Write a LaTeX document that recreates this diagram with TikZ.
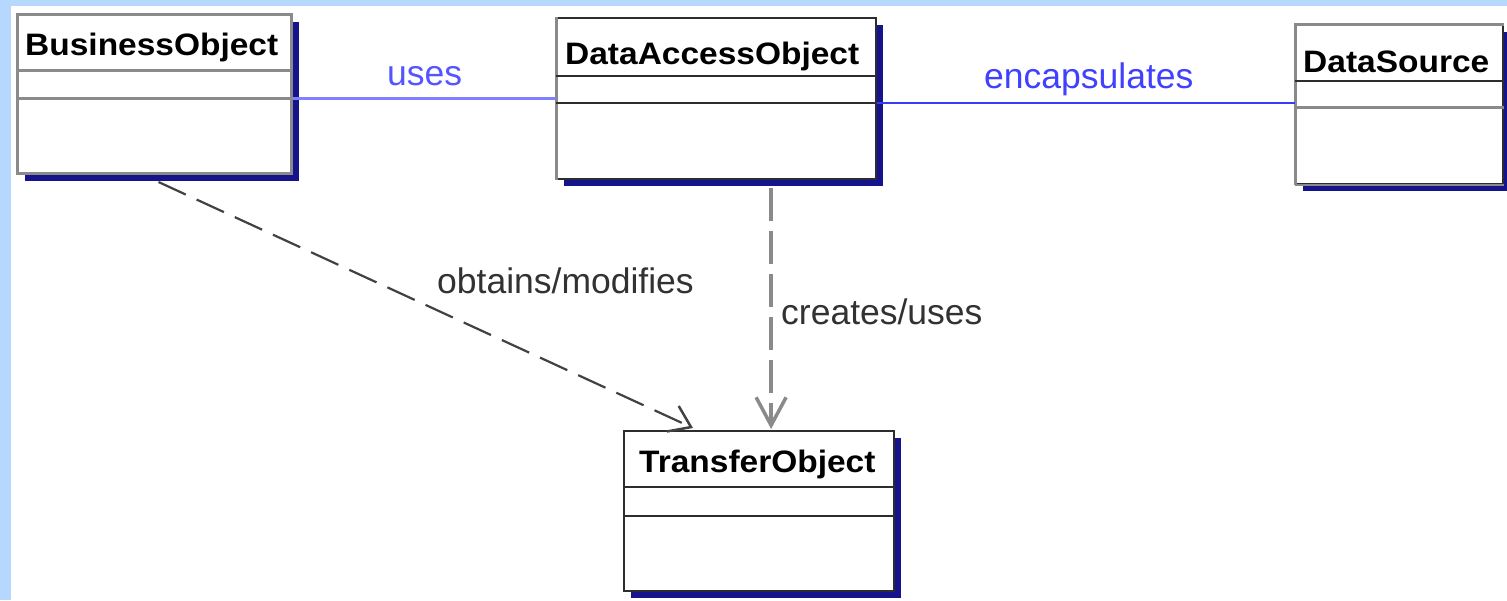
\documentclass[tikz,border=0pt]{standalone}
\usepackage{fontspec}
\setmainfont{Liberation Sans}
\newfontfamily\clsfont[FakeStretch=1.08]{Liberation Sans}
\usetikzlibrary{arrows.meta,shadows}
\definecolor{bandblue}{RGB}{182,216,255}
\definecolor{shadowc}{RGB}{22,20,140}
\definecolor{boxgray}{RGB}{138,138,138}
\definecolor{boxdark}{RGB}{45,45,45}
\definecolor{useblue}{RGB}{128,128,255}
\definecolor{encblue}{RGB}{56,56,255}
\definecolor{usetext}{RGB}{85,85,255}
\definecolor{enctext}{RGB}{64,64,255}
\definecolor{lbltext}{RGB}{50,50,50}
\tikzset{
  classbox/.style={rectangle, fill=white, inner sep=0pt, anchor=north west,
    drop shadow={shadow xshift=7pt, shadow yshift=-7pt, opacity=1, fill=shadowc}},
  grayborder/.style={draw=boxgray, line width=3pt},
  darkborder/.style={draw=boxdark, line width=2.2pt},
  graysep/.style={draw=boxgray, line width=3pt},
  darksep/.style={draw=boxdark, line width=2.2pt},
  classname/.style={anchor=base west, inner sep=0pt, text=black,
    font=\clsfont\bfseries\fontsize{31}{36}\selectfont},
  lbl/.style={anchor=base west, inner sep=0pt,
    font=\fontsize{35.5}{40}\selectfont},
  useline/.style={draw=useblue, line width=3pt},
  encline/.style={draw=encblue, line width=2.5pt},
  obtline/.style={draw=boxdark!90, line width=2.2pt, dash pattern=on 30pt off 12pt,
    -{Straight Barb[length=20pt,width=28pt,line width=2.5pt]}},
  creline/.style={draw=boxgray, line width=4pt, dash pattern=on 33pt off 10pt,
    -{Straight Barb[length=28pt,width=30pt,line width=3.5pt]}}
}
\begin{document}
\begin{tikzpicture}[x=1pt,y=-1pt]
\useasboundingbox (0,0) rectangle (1507,600);
% background
\fill[white] (0,0) rectangle (1507,600);
\fill[bandblue] (0,0) rectangle (1507,6);
\fill[bandblue] (0,0) rectangle (11,600);

% BusinessObject
\node[classbox, grayborder, minimum width=274pt, minimum height=159pt] (bo) at (16,13) {};
\draw[graysep] (bo.west |- 0,70) -- (bo.east |- 0,70);
\draw[graysep] (bo.west |- 0,98) -- (bo.east |- 0,98);
\node[classname] (bot) at (25,55) {BusinessObject};

% DataAccessObject
\node[classbox, darkborder, minimum width=319pt, minimum height=161pt] (dao) at (556,17) {};
\draw[boxgray, line width=3pt] (dao.north west) -- (dao.south west);
\draw[darksep] (dao.west |- 0,76) -- (dao.east |- 0,76);
\draw[darksep] (dao.west |- 0,103) -- (dao.east |- 0,103);
\node[classname] (daot) at (565,64) {DataAccessObject};

% DataSource
\node[classbox, darkborder, minimum width=207pt, minimum height=159pt] (ds) at (1295,24) {};
\draw[boxgray, line width=3pt] (ds.south west) -- (ds.north west) -- (ds.north east);
\draw[boxgray, line width=2.5pt] (ds.south west) -- (ds.south east);
\draw[darksep] (ds.west |- 0,81) -- (ds.east |- 0,81);
\draw[graysep] (ds.west |- 0,107) -- (ds.east |- 0,107);
\node[classname] (dst) at (1303,72) {DataSource};

% TransferObject
\node[classbox, darkborder, minimum width=270pt, minimum height=160pt] (to) at (623,430) {};
\draw[darksep] (to.west |- 0,487) -- (to.east |- 0,487);
\draw[darksep] (to.west |- 0,516) -- (to.east |- 0,516);
\node[classname] (tot) at (639,472) {TransferObject};

% connectors
\draw[useline] (bo.east |- 0,98) -- (dao.west |- 0,98);
\draw[encline] (dao.east |- 0,103) -- (ds.west |- 0,103);
\draw[obtline] ([xshift=4pt,yshift=-7pt]bo.south) -- ([xshift=70pt,yshift=2pt]to.north west);
\draw[creline] ([xshift=54.5pt,yshift=-8pt]dao.south) -- ([xshift=12pt,yshift=1pt]to.north);

% labels
\node[lbl, text=usetext] (luses) at (387,85) {uses};
\node[lbl, text=enctext] (lenc) at (984,88) {encapsulates};
\node[lbl, text=lbltext] (lobt) at (437,293) {obtains/modifies};
\node[lbl, text=lbltext] (lcre) at (781,324) {creates/uses};
\end{tikzpicture}
\end{document}
